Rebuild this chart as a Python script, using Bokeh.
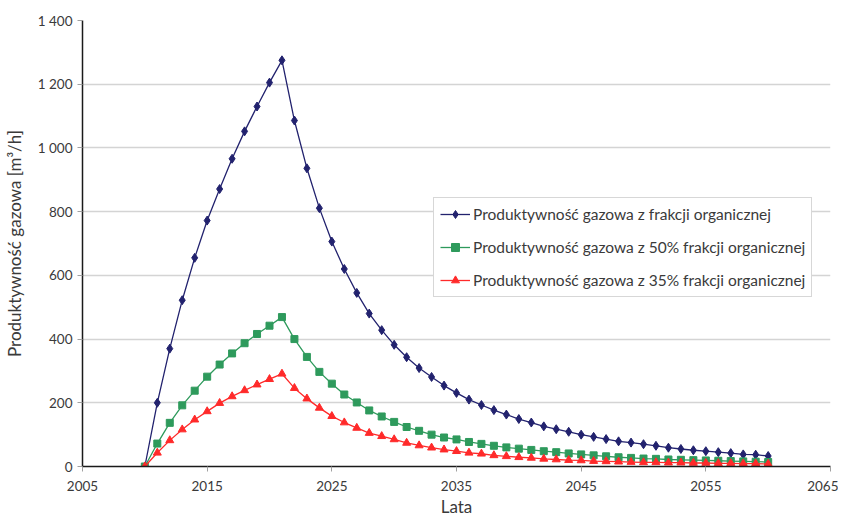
from bokeh.plotting import figure
from bokeh.models import Legend, LegendItem, FixedTicker, Range1d
from bokeh.embed import file_html
from bokeh.resources import INLINE

years = list(range(2010, 2061))

full_organic = [0, 200, 370, 522, 655, 772, 871, 966, 1052, 1130, 1205, 1275,
                1086, 936, 811, 706, 620, 545, 480, 428, 382, 343, 309, 281,
                254, 231, 210, 193, 177, 163, 149, 138, 126, 117, 109, 100,
                93, 86, 79, 75, 70, 65, 59, 55, 51, 48, 45, 42, 38, 37, 33]

organic_50 = [0, 72, 137, 192, 238, 282, 320, 355, 387, 416, 442, 469,
              400, 344, 297, 260, 226, 201, 176, 157, 140, 124, 112, 100,
              91, 85, 77, 71, 65, 60, 56, 52, 48, 45, 41, 38,
              35, 32, 29, 27, 25, 24, 22, 21, 20, 19, 18, 17, 16, 15, 14]

organic_35 = [0, 43, 82, 116, 147, 173, 199, 220, 239, 257, 274, 291,
              246, 213, 184, 158, 138, 121, 105, 95, 85, 74, 66, 59,
              53, 48, 43, 40, 35, 32, 29, 27, 24, 22, 20, 19,
              17, 16, 15, 14, 13, 13, 12, 12, 11, 11, 10, 10, 9, 9, 8]

series_names = ["Produktywność gazowa z frakcji organicznej",
                "Produktywność gazowa z 50% frakcji organicznej",
                "Produktywność gazowa z 35% frakcji organicznej"]

x_ticks = [2005, 2015, 2025, 2035, 2045, 2055, 2065]
y_ticks = [0, 200, 400, 600, 800, 1000, 1200, 1400]
y_tick_labels = ["0", "200", "400", "600", "800", "1 000", "1 200", "1 400"]

FONT = "Lato"
TXT = "#3a3a3a"

p = figure(width=838, height=519, output_backend="svg", toolbar_location=None,
           x_range=Range1d(2005, 2065), y_range=Range1d(0, 1400),
           min_border_left=81, min_border_right=8, min_border_top=20,
           min_border_bottom=52)
p.outline_line_color = None
p.xgrid.grid_line_color = None
p.ygrid.grid_line_color = "#d4d4d4"
p.ygrid.grid_line_width = 1.5

p.xaxis.ticker = FixedTicker(ticks=x_ticks)
p.yaxis.ticker = FixedTicker(ticks=y_ticks)
p.yaxis.major_label_overrides = {t: l for t, l in zip(y_ticks, y_tick_labels)}
p.xaxis.minor_tick_line_color = None
p.yaxis.minor_tick_line_color = None

for ax in (p.xaxis, p.yaxis):
    ax.axis_line_color = "#1a1a1a"
    ax.axis_line_width = 1.5
    ax.major_tick_in = 0
    ax.major_tick_out = 5
    ax.major_tick_line_color = "#a0a0a0"
    ax.major_label_text_font = FONT
    ax.major_label_text_font_size = "13.5px"
    ax.major_label_text_color = TXT
    ax.axis_label_text_font = FONT
    ax.axis_label_text_font_size = "17px"
    ax.axis_label_text_font_style = "normal"
    ax.axis_label_text_color = TXT

p.xaxis.axis_label = "Lata"
p.xaxis.major_label_standoff = 9
p.xaxis.axis_label_standoff = 2
p.yaxis.axis_label = "Produktywność gazowa [m³/h]"
p.yaxis.major_label_standoff = 5
p.yaxis.axis_label_standoff = 10

colors = ["#22226e", "#2e9a5c", "#ff2a2a"]
markers = ["diamond", "square", "triangle"]
sizes = [9, 7, 8]
data = [full_organic, organic_50, organic_35]

items = []
for vals, col, mk, sz, name in zip(data, colors, markers, sizes, series_names):
    r1 = p.line(years, vals, line_color=col, line_width=1.3)
    r2 = p.scatter(years, vals, marker=mk, size=sz, fill_color=col, line_color=col)
    items.append(LegendItem(label=name, renderers=[r1, r2]))

legend = Legend(items=items, location=(351, 169))
legend.label_text_font = FONT
legend.label_text_font_size = "15.5px"
legend.label_text_color = TXT
legend.border_line_color = "#b0b0b0"
legend.border_line_width = 1
legend.background_fill_alpha = 1
legend.glyph_width = 30
legend.glyph_height = 20
legend.label_height = 20
legend.spacing = 13
legend.padding = 6
legend.margin = 0
legend.label_standoff = 3
p.add_layout(legend, "center")

open("out.html", "w").write(file_html(p, INLINE))
